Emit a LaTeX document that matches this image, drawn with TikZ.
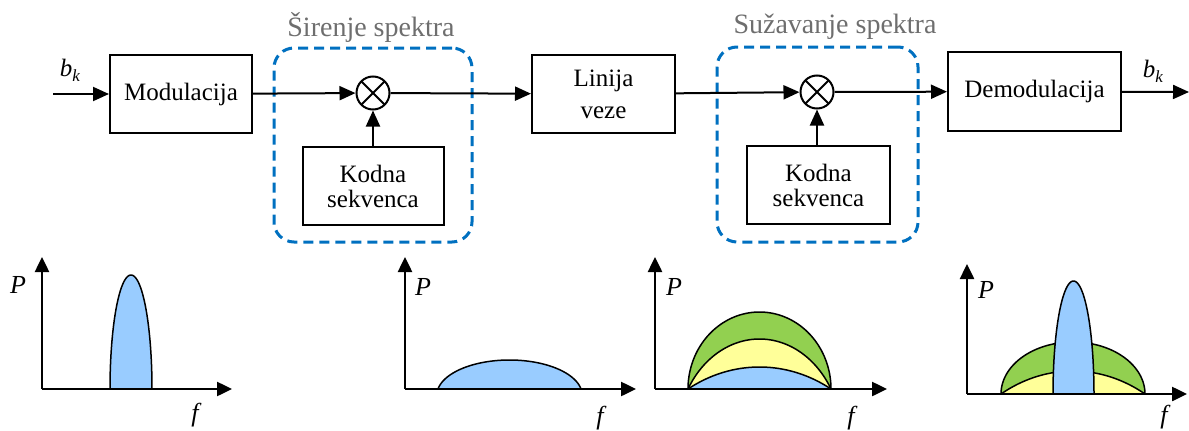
\documentclass[tikz,border=0pt]{standalone}
\usepackage{fontspec}
\setmainfont{Liberation Serif}
\usetikzlibrary{arrows.meta}

\definecolor{specblue}{RGB}{153,204,255}
\definecolor{specgreen}{RGB}{146,208,80}
\definecolor{specyellow}{RGB}{255,255,153}
\definecolor{groupblue}{RGB}{0,112,192}
\definecolor{groupgray}{RGB}{110,110,110}

\begin{document}
\begin{tikzpicture}[x=1pt,y=-1pt,
  block/.style={draw, line width=2pt, align=center, inner sep=0pt},
  mixer/.style={draw, circle, line width=2pt, minimum size=33pt, inner sep=0pt,
    path picture={\draw[line width=1.8pt]
      (path picture bounding box.north west) -- (path picture bounding box.south east)
      (path picture bounding box.north east) -- (path picture bounding box.south west);}},
  flow/.style={line width=2pt, -{Triangle[length=16pt,width=14pt]}},
  axis/.style={line width=2.5pt, -{Triangle[length=15pt,width=14pt]}},
  group/.style={draw=groupblue, line width=3pt, dash pattern=on 10pt off 6pt,
    rounded corners=20pt, inner sep=0pt},
  grouplabel/.style={text=groupgray, font=\fontsize{28}{32}\selectfont},
  curve/.style={line width=1.5pt},
  axlabel/.style={font=\fontsize{26}{30}\selectfont\itshape, inner sep=0pt},
  sym/.style={font=\fontsize{25}{30}\selectfont\itshape, inner sep=0pt}
]
\useasboundingbox (0,0) rectangle (1189,431);

% ---------------- signal chain ----------------
\node[group, minimum width=198pt, minimum height=194pt] (spread) at (373,145) {};
\node[group, minimum width=201pt, minimum height=195pt] (despread) at (817.5,144.5) {};
\node[grouplabel] (spreadlbl) at (371,27) {Širenje spektra};
\node[grouplabel] (despreadlbl) at (835,27) {Sužavanje spektra};

\node[block, minimum width=142pt, minimum height=78pt,
      font=\fontsize{25}{30}\selectfont] (mod) at (181,94) {Modulacija};
\node[mixer] (mix1) at (373,93) {};
\node[block, minimum width=141pt, minimum height=78pt,
      font=\fontsize{25}{25}\selectfont] (code1) at (373,186) {Kodna\\sekvenca};
\node[block, minimum width=143pt, minimum height=78pt,
      font=\fontsize{25}{32}\selectfont] (lin) at (603.5,94) {Linija\\veze};
\node[mixer] (mix2) at (817,92) {};
\node[block, minimum width=143pt, minimum height=78pt,
      font=\fontsize{25}{25}\selectfont] (code2) at (818.5,185) {Kodna\\sekvenca};
\node[block, minimum width=173pt, minimum height=79pt,
      font=\fontsize{25}{30}\selectfont] (demod) at (1034.5,91.5) {Demodulacija};

\coordinate (in) at (53,94);
\coordinate (out) at (1189,92);
\node[sym] (bkin) at (70,70) {b\raisebox{-5pt}{\fontsize{17}{17}\selectfont k}};
\node[sym] (bkout) at (1153,71) {b\raisebox{-5pt}{\fontsize{17}{17}\selectfont k}};

\draw[flow] (in) -- (mod);
\draw[flow] (mod) -- (mix1);
\draw[flow] (mix1) -- (lin);
\draw[flow] (lin) -- (mix2);
\draw[flow] (mix2) -- (demod);
\draw[flow] (demod) -- (out);
\draw[flow] (code1) -- (mix1);
\draw[flow] (code2.north -| mix2) -- (mix2);

% ---------------- spectra ----------------
% 1: narrow band after modulation
\draw[curve, fill=specblue] plot[domain=0:180, samples=80]
  ({131+21*cos(\x)},{389-114*sin(\x)}) -- cycle;
% 2: spread spectrum
\draw[curve, fill=specblue] plot[domain=10:170, samples=80]
  ({509.5+72.6*cos(\x)},{395.1-35.1*sin(\x)}) -- cycle;
% 3: spread signal with interference on the channel
\draw[curve, fill=specgreen] plot[domain=0:180, samples=80]
  ({759.5+71.5*cos(\x)},{389-77*sin(\x)}) -- cycle;
\draw[curve, fill=specyellow] plot[domain=30:150, samples=80]
  ({759.5+82.56*cos(\x)},{439-100*sin(\x)}) -- cycle;
\draw[curve, fill=specblue] plot[domain=60:120, samples=80]
  ({759.5+143*cos(\x)},{531.2-164.2*sin(\x)}) -- cycle;
% 4: despread signal, interference spread out
\draw[curve, fill=specgreen] plot[domain=0:180, samples=80]
  ({1073+72*cos(\x)},{394-52*sin(\x)}) -- cycle;
\draw[curve, fill=specyellow] plot[domain=60:120, samples=80]
  ({1073+144*cos(\x)},{542.6-171.6*sin(\x)}) -- cycle;
\draw[curve, fill=specblue] plot[domain=0:180, samples=80]
  ({1073.5+20.5*cos(\x)},{394-113*sin(\x)}) -- cycle;

% axes
\coordinate (o1) at (42,389);   \coordinate (p1) at (42,257);   \coordinate (f1) at (232,389);
\coordinate (o2) at (405,389);  \coordinate (p2) at (405,257);  \coordinate (f2) at (636,389);
\coordinate (o3) at (655,389);  \coordinate (p3) at (655,257);  \coordinate (f3) at (887,389);
\coordinate (o4) at (967,394);  \coordinate (p4) at (967,264);  \coordinate (f4) at (1187,394);
\foreach \i in {1,2,3,4} {
  \draw[axis] (o\i) -- (p\i);
  \draw[axis] (o\i) -- (f\i);
}

\node[axlabel] (P1) at (18,285) {P};
\node[axlabel] (F1) at (195,415) {f};
\node[axlabel] (P2) at (423,287) {P};
\node[axlabel] (F2) at (600,418) {f};
\node[axlabel] (P3) at (674,287) {P};
\node[axlabel] (F3) at (851,418) {f};
\node[axlabel] (P4) at (986,290) {P};
\node[axlabel] (F4) at (1164,417) {f};
\end{tikzpicture}
\end{document}
